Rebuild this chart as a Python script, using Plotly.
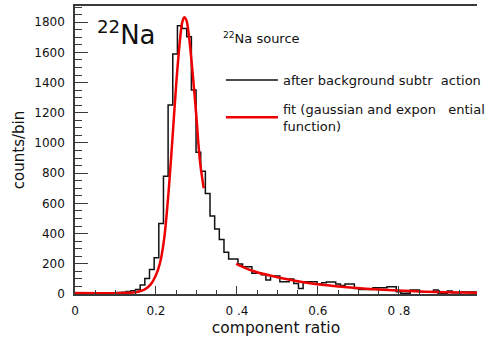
import plotly.graph_objects as go

# ---- data ----
bin_width = 0.0115
counts = [2, 1, 2, 2, 1, 3, 2, 3, 8, 10, 12, 17, 22, 30, 60, 103, 163, 240, 467, 780,
          1252, 1589, 1777, 1758, 1704, 1351, 939, 813, 665, 516, 430, 361, 276, 232, 232,
          199, 181, 181, 137, 140, 128, 93, 119, 119, 81, 81, 99, 70, 37, 81, 81, 81, 66,
          75, 79, 79, 66, 57, 66, 66, 37, 30, 30, 30, 42, 42, 42, 48, 48, 15, 5, 5, 26, 26,
          15, 15, 15, 26, 5, 5, 20, 9, 9, 13, 13, 13, 13]

fit_peak_x = [0.00, 0.12, 0.15, 0.17, 0.18, 0.19, 0.20, 0.21, 0.22, 0.23, 0.24, 0.25,
              0.26, 0.265, 0.27, 0.275, 0.28, 0.285, 0.29, 0.295, 0.30, 0.305, 0.31, 0.318]
fit_peak_y = [6, 7, 12, 28, 45, 75, 125, 205, 360, 640, 1000, 1390,
              1700, 1800, 1832, 1815, 1740, 1620, 1480, 1330, 1170, 990, 850, 700]

fit_tail_x = [0.398, 0.44, 0.49, 0.54, 0.585, 0.633, 0.68, 0.76, 0.84, 0.92, 0.993]
fit_tail_y = [200, 152, 117, 90, 70, 55, 43, 28, 18, 12, 9]

x_tickvals = [0, 0.2, 0.4, 0.6, 0.8]
x_ticktext = ["0", "0.2", "0\u00a0.4", "0.6", "0\u00a0.8"]
y_tickvals = [0, 200, 400, 600, 800, 1000, 1200, 1400, 1600, 1800]

# histogram outline as steps
edges = [i * bin_width for i in range(len(counts) + 1)]
step_y = counts + [counts[-1]]

FONT = "DejaVu Sans"
AX = "#3a3a3a"

fig = go.Figure()
fig.add_trace(go.Scatter(
    x=edges, y=step_y, mode="lines", line=dict(shape="hv", color="#111111", width=1.5),
    name="after background subtr\u00a0\u00a0action", legendgroup="a"))
fig.add_trace(go.Scatter(
    x=fit_peak_x, y=fit_peak_y, mode="lines", line=dict(shape="spline", color="#ee0000", width=2.5),
    name="fit (gaussian and expon\u00a0\u00a0\u00a0ential<br>function)", legendgroup="b"))
fig.add_trace(go.Scatter(
    x=fit_tail_x, y=fit_tail_y, mode="lines", line=dict(shape="spline", color="#ee0000", width=2.5),
    showlegend=False, legendgroup="b"))

fig.update_layout(
    width=490, height=337,
    margin=dict(l=75, r=0, t=6, b=43),
    paper_bgcolor="white", plot_bgcolor="white",
    font=dict(family=FONT, size=12, color="#111111"),
    showlegend=True,
    legend=dict(x=0.363, y=0.795, xanchor="left", yanchor="top",
                font=dict(size=13, family=FONT), bgcolor="rgba(0,0,0,0)",
                tracegroupgap=9, itemwidth=52),
    xaxis=dict(range=[0, 0.993], showgrid=False, zeroline=False,
               showline=True, linecolor=AX, linewidth=1.5, mirror=True,
               ticks="inside", ticklen=8, tickcolor=AX, tickwidth=1,
               tickvals=x_tickvals, ticktext=x_ticktext, ticklabelstandoff=5,
               tickfont=dict(size=12),
               minor=dict(dtick=0.05, ticks="inside", ticklen=4, tickcolor=AX, showgrid=False),
               title=dict(text="component ratio", font=dict(size=15.5), standoff=6)),
    yaxis=dict(range=[0, 1907], showgrid=False, zeroline=False,
               showline=True, linecolor=AX, linewidth=1.5,
               ticks="inside", ticklen=13, tickcolor=AX, tickwidth=1,
               tickvals=y_tickvals, ticklabelstandoff=6,
               tickfont=dict(size=12),
               minor=dict(dtick=50, ticks="inside", ticklen=7, tickcolor=AX, showgrid=False),
               title=dict(text="counts/bin", font=dict(size=15), standoff=6)),
    annotations=[
        dict(text="<sup>22</sup>Na", xref="paper", yref="paper", x=0.05, y=0.905,
             xanchor="left", yanchor="middle", showarrow=False,
             font=dict(size=26, family=FONT, color="#111111")),
        dict(text="<sup>22</sup>Na source", xref="paper", yref="paper", x=0.362, y=0.888,
             xanchor="left", yanchor="middle", showarrow=False,
             font=dict(size=13, family=FONT, color="#111111")),
    ],
)

fig.write_html("out.html")
